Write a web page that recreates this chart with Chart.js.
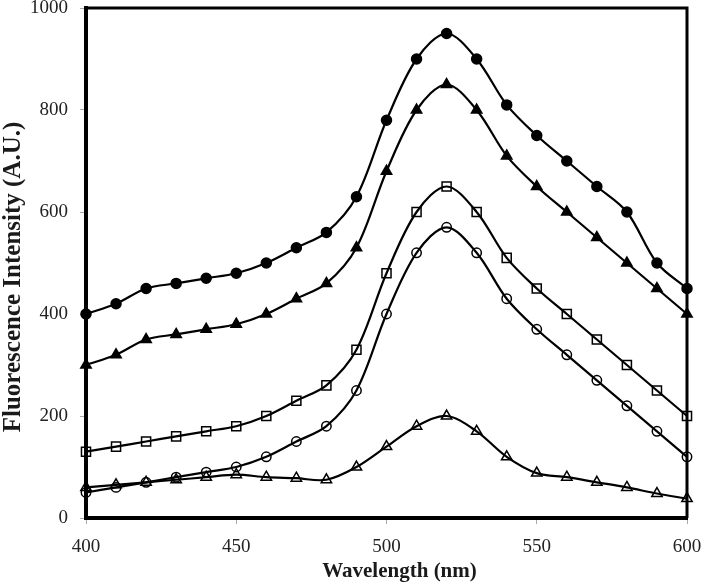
<!DOCTYPE html>
<html>
<head>
<meta charset="utf-8">
<script src="https://cdn.jsdelivr.net/npm/chart.js@4.4.1/dist/chart.umd.min.js"></script>
<style>
  html, body { margin: 0; padding: 0; background: #fff; }
  #wrap { width: 702px; height: 588px; }
</style>
</head>
<body>
<div id="wrap"><canvas id="fluoChart"></canvas></div>
<script>
const wavelengths = [400, 410, 420, 430, 440, 450, 460, 470, 480, 490, 500, 510, 520, 530, 540, 550, 560, 570, 580, 590, 600];
const filledCircle = [400, 420, 450, 460, 470, 480, 500, 530, 560, 630, 780, 900, 950, 900, 810, 750, 700, 650, 600, 500, 450];
const filledTriangle = [300, 320, 350, 360, 370, 380, 400, 430, 460, 530, 680, 800, 850, 800, 710, 650, 600, 550, 500, 450, 400];
const openSquare = [130, 140, 150, 160, 170, 180, 200, 230, 260, 330, 480, 600, 650, 600, 510, 450, 400, 350, 300, 250, 200];
const openCircle = [50, 60, 70, 80, 90, 100, 120, 150, 180, 250, 400, 520, 570, 520, 430, 370, 320, 270, 220, 170, 120];
const openTriangle = [60, 65, 70, 75, 80, 85, 80, 78, 75, 100, 140, 180, 200, 170, 120, 88, 80, 70, 60, 48, 38];
const xTicks = [400, 450, 500, 550, 600];
const yTicks = [0, 200, 400, 600, 800, 1000];
const xTitle = 'Wavelength (nm)';
const yTitle = 'Fluorescence Intensity (A.U.)';

function toPoints(values) {
  return values.map((v, i) => ({ x: wavelengths[i], y: v }));
}

function series(values, style, filled, radius) {
  return {
    data: toPoints(values),
    borderColor: '#000',
    borderWidth: 2.2,
    backgroundColor: filled ? '#000' : 'rgba(255,255,255,0)',
    pointStyle: style,
    pointRadius: radius,
    pointBorderWidth: 1.5,
    pointBorderColor: '#000',
    pointBackgroundColor: filled ? '#000' : 'rgba(255,255,255,0)',
    tension: 0.33,
    fill: false,
    clip: false
  };
}

const serif = "'Liberation Serif', 'Times New Roman', serif";

// top/right frame lines and the two axis titles
const frame = {
  id: 'frame',
  beforeDatasetsDraw(chart) {
    const { ctx, chartArea: a } = chart;
    ctx.save();
    ctx.strokeStyle = '#000';
    ctx.lineWidth = 3;
    ctx.beginPath();
    ctx.moveTo(a.left, a.top);
    ctx.lineTo(a.right, a.top);
    ctx.lineTo(a.right, a.bottom);
    ctx.stroke();

    ctx.fillStyle = '#1a1a1a';
    ctx.textAlign = 'center';
    ctx.textBaseline = 'middle';
    ctx.font = 'bold 21px ' + serif;
    ctx.fillText(xTitle, (a.left + a.right) / 2 + 13, 572);

    ctx.translate(14, (a.top + a.bottom) / 2 + 14);
    ctx.rotate(-Math.PI / 2);
    ctx.font = 'bold 25px ' + serif;
    ctx.fillText(yTitle, 0, 0);
    ctx.restore();
  }
};

new Chart(document.getElementById('fluoChart'), {
  type: 'line',
  data: {
    datasets: [
      series(filledCircle, 'circle', true, 5),
      series(filledTriangle, 'triangle', true, 6),
      series(openSquare, 'rect', false, 6.4),
      series(openCircle, 'circle', false, 4.7),
      series(openTriangle, 'triangle', false, 6)
    ]
  },
  options: {
    responsive: true,
    maintainAspectRatio: false,
    animation: false,
    layout: { padding: { top: 8, right: 15, left: 0, bottom: 0 } },
    plugins: { legend: { display: false }, tooltip: { enabled: false } },
    scales: {
      x: {
        type: 'linear',
        min: 400,
        max: 600,
        afterBuildTicks: s => { s.ticks = xTicks.map(v => ({ value: v })); },
        border: { display: true, color: '#000', width: 4 },
        grid: { drawOnChartArea: false, drawTicks: true, tickLength: 6, color: '#aaa', lineWidth: 1 },
        ticks: { color: '#222', padding: 12, font: { family: serif, size: 19 }, callback: v => String(v) },
        afterFit: s => { s.height = 70; s.paddingLeft = 0; s.paddingRight = 0; }
      },
      y: {
        min: 0,
        max: 1000,
        afterBuildTicks: s => { s.ticks = yTicks.map(v => ({ value: v })); },
        border: { display: true, color: '#000', width: 4 },
        grid: { drawOnChartArea: false, drawTicks: true, tickLength: 6, color: '#aaa', lineWidth: 1 },
        ticks: { color: '#222', padding: 12, font: { family: serif, size: 19 }, callback: v => String(v) },
        afterFit: s => { s.width = 86; s.paddingTop = 0; s.paddingBottom = 0; }
      }
    }
  },
  plugins: [frame]
});
</script>
</body>
</html>
